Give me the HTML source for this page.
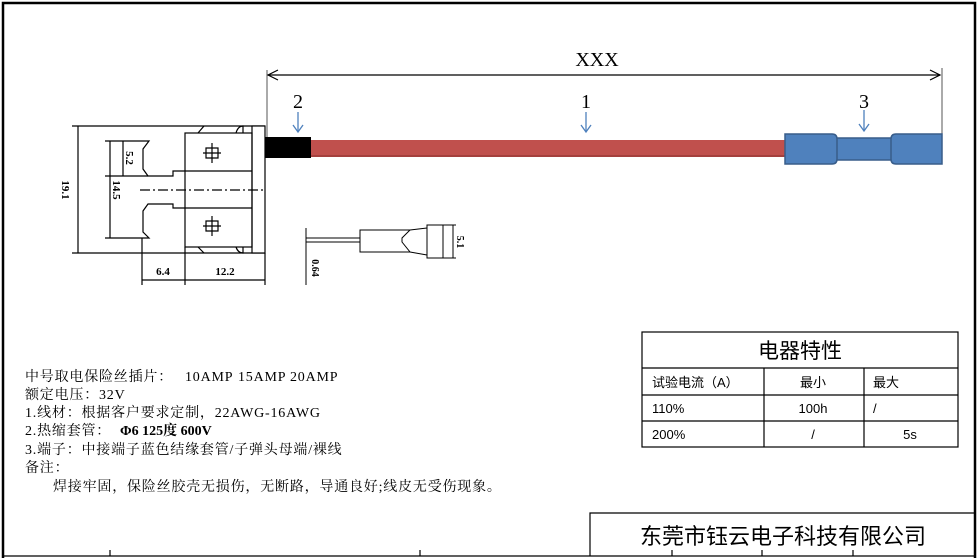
<!DOCTYPE html>
<html><head><meta charset="utf-8"><style>
body{margin:0;background:#fff}
svg{display:block}
text{font-family:"Liberation Serif","Noto Serif CJK SC",serif}
.s{font-family:"Liberation Sans","Noto Sans CJK SC",sans-serif}
</style></head><body>
<svg width="980" height="558" viewBox="0 0 980 558" xmlns="http://www.w3.org/2000/svg">
<rect x="3" y="3" width="972" height="560" fill="none" stroke="#000" stroke-width="2.5"/>
<line x1="267" y1="70" x2="267" y2="137" stroke="#555" stroke-width="1"/>
<line x1="942" y1="68" x2="942" y2="135" stroke="#555" stroke-width="1"/>
<line x1="268" y1="75" x2="940" y2="75" stroke="#000" stroke-width="1.2"/>
<polyline points="278,70 268,75 278,80" fill="none" stroke="#000" stroke-width="1.2"/>
<polyline points="930,70 940,75 930,80" fill="none" stroke="#000" stroke-width="1.2"/>
<text x="597" y="66" font-size="20" text-anchor="middle">XXX</text>
<g font-size="20" text-anchor="middle"><text x="298" y="108">2</text><text x="586" y="108">1</text><text x="864" y="108">3</text></g>
<g stroke="#4f81bd" stroke-width="1.3" fill="none">
<line x1="298" y1="112" x2="298" y2="132"/><polyline points="293,125 298,132 303,125"/>
<line x1="586" y1="112" x2="586" y2="132"/><polyline points="581,125 586,132 591,125"/>
<line x1="864" y1="110" x2="864" y2="131"/><polyline points="859,124 864,131 869,124"/>
</g>
<rect x="310" y="140" width="478" height="17" fill="#c0504d"/>
<line x1="310" y1="156" x2="788" y2="156" stroke="#9b3b38" stroke-width="1.5"/>
<rect x="265" y="137" width="46" height="21" fill="#000"/>
<g fill="#4f81bd" stroke="#385d8a" stroke-width="1.5">
<rect x="835" y="138" width="58" height="22"/>
<path d="M785,134 H832 Q837,134 837,139 V159 Q837,164 832,164 H785 Z"/>
<path d="M942,134 H896 Q891,134 891,139 V159 Q891,164 896,164 H942 Z"/>
</g>
<g stroke="#000" stroke-width="1.2" fill="none">
<line x1="72" y1="126" x2="265" y2="126"/><line x1="72" y1="253" x2="265" y2="253"/>
<rect x="252" y="126" width="13" height="127" fill="#fff"/>
<rect x="185" y="133" width="67" height="114"/>
<line x1="185" y1="171" x2="252" y2="171"/><line x1="185" y1="208" x2="252" y2="208"/>
<path d="M198,133 L204,126 M236,133 Q238,126 243,126 L243,133"/>
<path d="M198,247 L204,253 M236,247 Q238,253 243,253 L243,247"/>
<path d="M105,141 H149 L143,149 V169 L148,176 H173 V171 H185"/>
<path d="M185,208 H173 V204 H148 L143,211 V232 L149,238 H105"/>
<line x1="142" y1="238" x2="142" y2="285"/><line x1="185" y1="247" x2="185" y2="285"/><line x1="265" y1="253" x2="265" y2="285"/>
<line x1="142" y1="280" x2="265" y2="280"/>
<line x1="78" y1="126" x2="78" y2="253"/>
<line x1="110" y1="141" x2="110" y2="238"/>
<line x1="123" y1="141" x2="123" y2="176"/><line x1="105" y1="176" x2="148" y2="176"/>
<line x1="140" y1="190" x2="265" y2="190" stroke-dasharray="10,3,2,3"/>
<path d="M212,143 V163 M203,153 H221 M206,148 H218 V158 H206 Z"/>
<path d="M212,216 V236 M203,226 H221 M206,221 H218 V231 H206 Z"/>
</g>
<g font-family="Liberation Sans" font-size="11" font-weight="bold">
<text x="62" y="190" transform="rotate(90 62 190)" text-anchor="middle">19.1</text>
<text x="113" y="190" transform="rotate(90 113 190)" text-anchor="middle">14.5</text>
<text x="126" y="158" transform="rotate(90 126 158)" text-anchor="middle">5.2</text>
<text x="163" y="275" text-anchor="middle">6.4</text>
<text x="225" y="275" text-anchor="middle">12.2</text>
</g>
<g stroke="#000" stroke-width="1" fill="none">
<line x1="306" y1="228" x2="306" y2="285"/>
<line x1="306" y1="238" x2="360" y2="238"/><line x1="306" y1="242" x2="360" y2="242"/>
<path d="M360,230 H410 L402,238 V242 L410,252 H360 Z"/>
<rect x="427" y="225" width="16" height="33"/>
<path d="M410,230 L427,228 M410,252 L427,255"/>
<line x1="443" y1="225" x2="456" y2="225"/><line x1="443" y1="258" x2="456" y2="258"/>
<line x1="453" y1="225" x2="453" y2="258"/>
</g>
<g font-family="Liberation Sans" font-size="10" font-weight="bold">
<text x="312" y="268" transform="rotate(90 312 268)" text-anchor="middle">0.64</text>
<text x="457" y="242" transform="rotate(90 457 242)" text-anchor="middle">5.1</text>
</g>
<g stroke="#000" stroke-width="1.2" fill="none">
<rect x="642" y="332" width="316" height="115"/>
<line x1="642" y1="368" x2="958" y2="368"/><line x1="642" y1="395" x2="958" y2="395"/><line x1="642" y1="421" x2="958" y2="421"/>
<line x1="764" y1="368" x2="764" y2="447"/><line x1="864" y1="368" x2="864" y2="447"/>
</g>
<g class="s" font-size="13">
<text x="800" y="358" font-size="21" text-anchor="middle" class="s">电器特性</text>
<text x="652" y="387" class="s">试验电流（A）</text>
<text x="813" y="387" text-anchor="middle" class="s">最小</text>
<text x="873" y="387" class="s">最大</text>
<text x="652" y="413" class="s">110%</text>
<text x="813" y="413" text-anchor="middle" class="s">100h</text>
<text x="873" y="413" class="s">/</text>
<text x="652" y="439" class="s">200%</text>
<text x="813" y="439" text-anchor="middle" class="s">/</text>
<text x="910" y="439" text-anchor="middle" class="s">5s</text>
</g>
<g font-size="14" font-family="'Liberation Serif','Noto Serif CJK SC',serif" letter-spacing="0.8">
<text x="25" y="381">中号取电保险丝插片：</text>
<text x="185" y="381">10AMP</text><text x="238" y="381">15AMP</text><text x="290" y="381">20AMP</text>
<text x="25" y="399">额定电压：32V</text>
<text x="25" y="417">1.线材：根据客户要求定制，22AWG-16AWG</text>
<text x="25" y="435">2.热缩套管：</text>
<text x="120" y="435" font-weight="bold" font-family="Liberation Sans, Noto Sans CJK SC, sans-serif" letter-spacing="0">Φ6 125度 600V</text>
<text x="25" y="454">3.端子：中接端子蓝色结缘套管/子弹头母端/裸线</text>
<text x="25" y="472">备注：</text>
<text x="53" y="491">焊接牢固，保险丝胶壳无损伤，无断路，导通良好;线皮无受伤现象。</text>
</g>
<g stroke="#000" stroke-width="1.2" fill="none">
<path d="M590,556 V513 H975"/>
<line x1="3" y1="556" x2="975" y2="556"/>
<path d="M110,556 V550 M420,556 V550 M672,556 V550 M762,556 V550 M853,556 V550"/>
</g>
<text x="783" y="544" font-size="22" text-anchor="middle" class="s">东莞市钰云电子科技有限公司</text>
</svg>
</body></html>
